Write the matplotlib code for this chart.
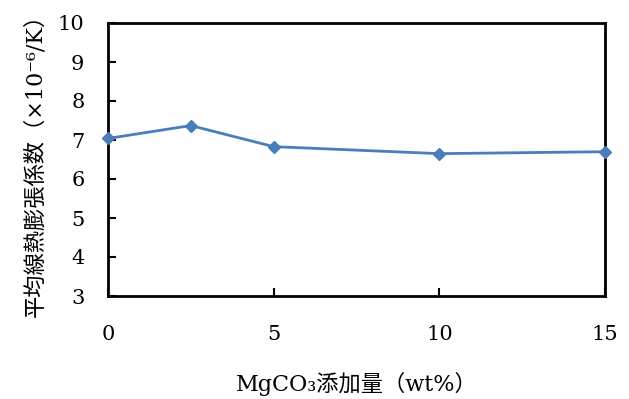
import matplotlib.pyplot as plt

# MgCO3 addition (wt%) vs mean linear thermal expansion coefficient (x1e-6/K)
mgco3_wt = [0, 2.5, 5, 10, 15]
cte = [7.04, 7.37, 6.83, 6.65, 6.70]

x_ticks = [0, 5, 10, 15]
y_ticks = [3, 4, 5, 6, 7, 8, 9, 10]

SERIF = ["DejaVu Serif", "Noto Sans CJK JP"]

fig = plt.figure(figsize=(6.29, 3.99), dpi=100)
ax = fig.add_axes([108 / 629, 1 - 296 / 399, (605 - 108) / 629, (296 - 23) / 399])

ax.plot(mgco3_wt, cte, color="#4a7ebb", linewidth=2.0,
        marker="D", markersize=6, markerfacecolor="#4a7ebb",
        markeredgecolor="#4a7ebb", clip_on=False, zorder=3)

ax.set_xlim(0, 15)
ax.set_ylim(3, 10)
ax.set_xticks(x_ticks)
ax.set_yticks(y_ticks)
ax.tick_params(direction="in", length=6, width=1.5, labelsize=15)
ax.tick_params(axis="y", pad=17)
ax.tick_params(axis="x", pad=21)
for lab in ax.get_xticklabels() + ax.get_yticklabels():
    lab.set_family(SERIF)

for s in ax.spines.values():
    s.set_linewidth(2.0)
    s.set_color("black")

# unicode sub/superscripts so the CJK fallback keeps working (no mathtext)
ax.set_xlabel("MgCO\u2083添加量（wt%）", fontsize=16, family=SERIF, labelpad=20)
ax.set_ylabel("平均線熱膨張係数（×10\u207b\u2076/K）", fontsize=16, family=SERIF, labelpad=8)

fig.savefig("out.png", dpi=100)
